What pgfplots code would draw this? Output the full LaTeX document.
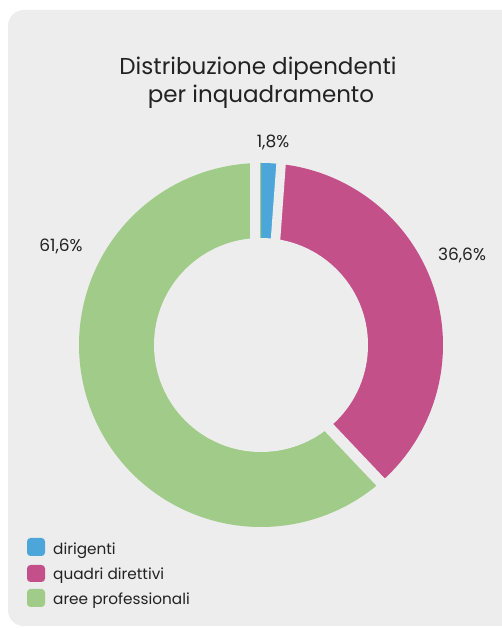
\documentclass[border=0pt]{standalone}
\usepackage{pgfplots}
\pgfplotsset{compat=1.18}
\usepackage{pgfplotstable}
\usepackage{fontspec}
\setmainfont{Poppins}
\definecolor{bgc}{HTML}{EDEDED}
\definecolor{cdir}{HTML}{4CA6DA}
\definecolor{cqua}{HTML}{C4508A}
\definecolor{care}{HTML}{A0CB88}
\definecolor{txt}{HTML}{222222}
\pgfplotstableread{
label value
dirigenti 1.8
quadri 36.6
aree 61.6
}\datatable
\newcommand\gapline[3]{%
  \draw[bgc, line width=#3] (axis cs:{95*cos(#1)-(#2)*sin(#1)},{95*sin(#1)+(#2)*cos(#1)}) -- (axis cs:{195*cos(#1)-(#2)*sin(#1)},{195*sin(#1)+(#2)*cos(#1)});}
\begin{document}
\begin{tikzpicture}[x=1bp,y=1bp]
\useasboundingbox (0,0) rectangle (502,628);
\fill[white] (0,0) rectangle (502,628);
\fill[bgc, rounded corners=16bp] (8,2) rectangle (540,618);
\pgfplotstablegetelem{0}{value}\of\datatable\let\vA\pgfplotsretval
\pgfplotstablegetelem{1}{value}\of\datatable\let\vB\pgfplotsretval
\pgfplotstablegetelem{2}{value}\of\datatable\let\vC\pgfplotsretval
\pgfmathsetmacro\aA{90}
\pgfmathsetmacro\aB{\aA-3.6*\vA}
\pgfmathsetmacro\aC{\aB-3.6*\vB}
\pgfmathsetmacro\aD{\aC-3.6*\vC}
\pgfmathsetmacro\gB{\aB+2.3}
\pgfmathsetmacro\gC{\aC+1.7}
\begin{axis}[at={(261,283)}, anchor=center, x=1bp, y=1bp,
  xmin=-200, xmax=200, ymin=-200, ymax=200, hide axis, clip=false]
\addplot[fill=cdir, draw=none, domain=\aB:\aA, samples=30, variable=\t] ({182*cos(\t)},{182*sin(\t)}) -- (axis cs:0,0) -- cycle;
\addplot[fill=cqua, draw=none, domain=\aC:\aB, samples=120, variable=\t] ({182*cos(\t)},{182*sin(\t)}) -- (axis cs:0,0) -- cycle;
\addplot[fill=care, draw=none, domain=\aD:\aC, samples=200, variable=\t] ({182*cos(\t)},{182*sin(\t)}) -- (axis cs:0,0) -- cycle;
\gapline{\aA}{6}{10bp}
\gapline{\gB}{-6.8}{9.5bp}
\gapline{\gC}{-7.5}{11bp}
\fill[bgc] (axis cs:0,0) circle[radius=107];
\end{axis}
\node[anchor=base, text=txt, font=\fontsize{23bp}{27bp}\selectfont] at (258,553) {Distribuzione dipendenti};
\node[anchor=base, text=txt, font=\fontsize{23bp}{27bp}\selectfont] at (261,525) {per inquadramento};
\node[anchor=base, text=txt, font=\fontsize{17bp}{20bp}\selectfont] at (273,480) {1,8\%};
\node[anchor=base, text=txt, font=\fontsize{17bp}{20bp}\selectfont] at (462,367) {36,6\%};
\node[anchor=base, text=txt, font=\fontsize{17bp}{20bp}\selectfont] at (61,376) {61,6\%};
\fill[cdir, rounded corners=3.5bp] (27,72) rectangle (45,90);
\fill[cqua, rounded corners=3.5bp] (27,46) rectangle (45,63);
\fill[care, rounded corners=3.5bp] (27,21) rectangle (45,39);
\node[anchor=base west, inner sep=0, text=txt, font=\fontsize{15.3bp}{18bp}\selectfont] at (53,73) {dirigenti};
\node[anchor=base west, inner sep=0, text=txt, font=\fontsize{15.3bp}{18bp}\selectfont] at (53,48) {quadri direttivi};
\node[anchor=base west, inner sep=0, text=txt, font=\fontsize{15.3bp}{18bp}\selectfont] at (53,23) {aree professionali};
\end{tikzpicture}
\end{document}
